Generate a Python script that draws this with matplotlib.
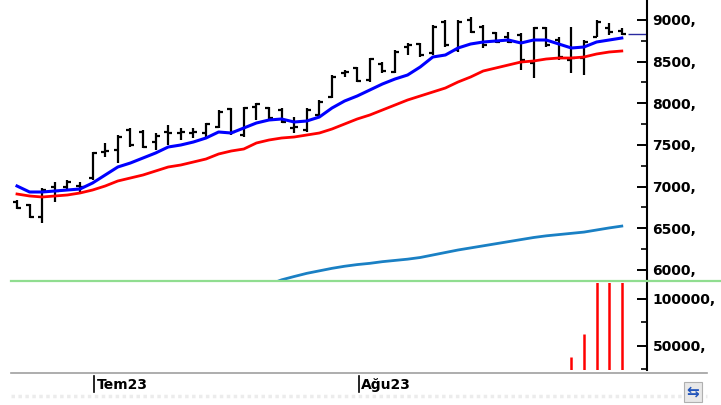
import matplotlib
matplotlib.use("Agg")
import matplotlib.pyplot as plt
import matplotlib.transforms as mtransforms
from matplotlib.ticker import MultipleLocator, FuncFormatter
from matplotlib.lines import Line2D
import numpy as np

# daily OHLC bars (index 0 = first visible session)
opens = [6810, 6780, 6636, 6990, 7000, 7010, 7100, 7420, 7440, 7680, 7660, 7530, 7660, 7640, 7640,
         7640, 7720, 7930, 7620, 7960, 7940, 7920, 7700, 7680, 7860, 8080, 8360, 8420, 8280, 8470,
         8380, 8680, 8710, 8600, 8980, 8640, 9000, 8920, 8840, 8800, 8820, 8480, 8900, 8760, 8520,
         8540, 8800, 8900, 8870]
highs = [6840, 6790, 6984, 7056, 7080, 7056, 7416, 7524, 7620, 7704, 7680, 7644, 7740, 7704, 7704,
         7764, 7920, 7944, 7956, 8004, 7956, 7944, 7836, 7944, 8040, 8340, 8400, 8436, 8544, 8496,
         8640, 8724, 8724, 8940, 9000, 9000, 9036, 8940, 8856, 8856, 8844, 8916, 8916, 8796, 8916,
         8760, 9000, 8964, 8904]
lows = [6732, 6624, 6564, 6816, 6960, 6936, 7080, 7356, 7284, 7476, 7464, 7440, 7500, 7560, 7584,
        7596, 7704, 7620, 7596, 7800, 7800, 7764, 7644, 7656, 7836, 8064, 8316, 8256, 8256, 8364,
        8364, 8580, 8556, 8580, 8676, 8616, 8844, 8664, 8724, 8724, 8400, 8304, 8676, 8520, 8364,
        8340, 8796, 8820, 8820]
closes = [6745, 6630, 6960, 6950, 7060, 7000, 7400, 7430, 7600, 7500, 7480, 7610, 7640, 7650, 7660,
          7750, 7900, 7660, 7940, 7990, 7820, 7780, 7720, 7920, 8020, 8320, 8370, 8270, 8530, 8390,
          8620, 8700, 8580, 8920, 8700, 8980, 8860, 8700, 8740, 8730, 8520, 8900, 8700, 8560, 8540,
          8740, 8980, 8850, 8830]

# moving averages
ma_fast = [7008, 6936, 6936, 6948, 6960, 6972, 7044, 7140, 7236, 7284, 7344, 7404, 7476, 7500, 7536,
           7584, 7656, 7644, 7704, 7764, 7800, 7812, 7776, 7788, 7836, 7944, 8028, 8088, 8160, 8232,
           8292, 8340, 8436, 8556, 8580, 8664, 8712, 8736, 8748, 8760, 8724, 8760, 8760, 8712, 8664,
           8676, 8736, 8760, 8784]
ma_slow = [6912, 6888, 6876, 6888, 6900, 6924, 6960, 7008, 7068, 7104, 7140, 7188, 7236, 7260, 7296,
           7332, 7392, 7428, 7452, 7524, 7560, 7584, 7596, 7620, 7644, 7692, 7752, 7812, 7860, 7920,
           7980, 8040, 8088, 8136, 8184, 8256, 8316, 8388, 8424, 8460, 8496, 8508, 8532, 8544, 8544,
           8556, 8592, 8616, 8628]
ma_long = [5380, 5400, 5420, 5445, 5470, 5490, 5515, 5540, 5565, 5585, 5610, 5635, 5660, 5680, 5705,
           5725, 5750, 5770, 5790, 5810, 5825, 5882, 5922, 5960, 5990, 6020, 6045, 6065, 6080, 6100,
           6115, 6130, 6150, 6180, 6210, 6240, 6265, 6290, 6315, 6340, 6365, 6390, 6410, 6425, 6440,
           6455, 6480, 6505, 6527]

volume = [0] * 44 + [38600, 62800, 182000, 175000, 190000]

month_labels = ["Tem23", "Ağu23"]
month_pos = [6.15, 27.15]

W, H = 721, 405
fig = plt.figure(figsize=(W / 100, H / 100), dpi=100)
fig.patch.set_facecolor("white")

x = np.arange(len(closes))
xlim = (-0.476, 50)

# ---- price panel
ax = fig.add_axes([11 / W, (H - 281) / H, (647 - 11) / W, 281 / H])
ax.vlines(x, lows, highs, color="black", lw=1.6)
ax.hlines(opens, x - 0.32, x, color="black", lw=1.6)
ax.hlines(closes, x, x + 0.32, color="black", lw=1.6)
ax.plot(x, ma_long, color="#1a80c4", lw=2.0)
ax.plot(x, ma_slow, color="#ff0000", lw=2.0)
ax.plot(x, ma_fast, color="#0000ff", lw=2.2)
ax.hlines(closes[-1], 48.5, 50, color="#2a2aa0", lw=1.0)
ax.set_xlim(*xlim)
ax.set_ylim(5868, 9240)

# ---- volume panel
ax2 = fig.add_axes([11 / W, (H - 370) / H, (647 - 11) / W, 87 / H])
ax2.vlines(x, 0, volume, color="#ff0000", lw=1.8)
ax2.set_xlim(*xlim)
ax2.set_ylim(24468, 117021)

fmt = FuncFormatter(lambda v, p: f"{int(v)},")
for a, major, minor in [(ax, 500, 250), (ax2, 50000, 25000)]:
    for s in ["left", "top", "bottom"]:
        a.spines[s].set_visible(False)
    a.spines["right"].set_linewidth(1.5)
    a.set_xticks([])
    a.yaxis.tick_right()
    a.yaxis.set_major_locator(MultipleLocator(major))
    a.yaxis.set_minor_locator(MultipleLocator(minor))
    a.yaxis.set_major_formatter(fmt)
    a.tick_params(axis="y", which="major", direction="in", length=7, width=1.4, pad=4,
                  labelsize=10)
    a.tick_params(axis="y", which="minor", direction="in", length=4, width=1.2)
    for lbl in a.get_yticklabels():
        lbl.set_fontweight("bold")
    a.patch.set_alpha(0)

# panel separators
fig.add_artist(Line2D([11 / W, 1], [(H - 281) / H] * 2, color="#90dd90", lw=1.6))
fig.add_artist(Line2D([11 / W, 707 / W], [(H - 373) / H] * 2, color="#a0a0a0", lw=1.2))
fig.add_artist(Line2D([11 / W, 707 / W], [(H - 396) / H] * 2, color="#ececec", lw=2.5,
                      linestyle=(0, (1, 1))))

# month labels
trans = mtransforms.blended_transform_factory(ax2.transData, ax2.transAxes)
for lab, pos in zip(month_labels, month_pos):
    ax2.add_line(Line2D([pos, pos], [-0.07, -0.25], transform=trans, color="black", lw=1.2,
                        clip_on=False))
    ax2.text(pos + 0.17, -0.175, lab, transform=trans, ha="left", va="center",
             fontsize=10, fontweight="bold", clip_on=False)

# small refresh button at bottom right
fig.text(693 / W, (H - 392) / H, "⇆", ha="center", va="center", fontsize=11,
         color="#2255bb", fontweight="bold",
         bbox=dict(boxstyle="square,pad=0.15", fc="#e8e8e8", ec="#b0b0b0", lw=0.8))

fig.savefig("out.png", dpi=100)
